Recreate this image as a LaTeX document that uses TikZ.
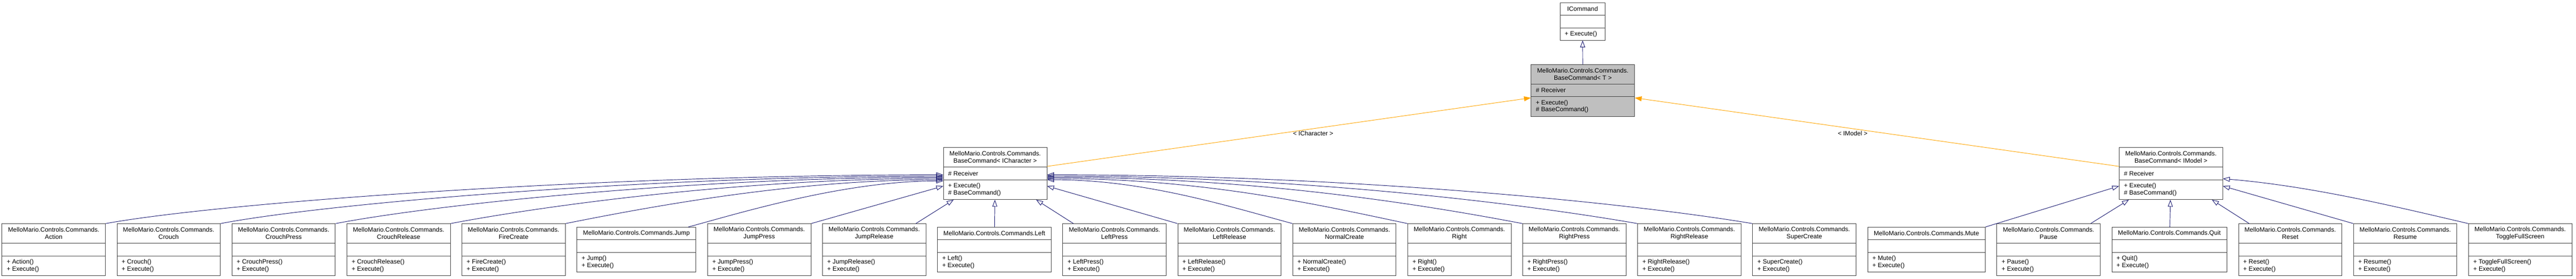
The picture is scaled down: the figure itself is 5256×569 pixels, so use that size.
\documentclass[tikz,border=0pt]{standalone}
\usepackage{fontspec}
\newfontfamily\doxyfont{Liberation Sans}
\usetikzlibrary{calc}
\usetikzlibrary{arrows.meta}
\definecolor{doxyborder}{HTML}{404040}
\definecolor{doxynavy}{HTML}{191970}
\definecolor{doxyorange}{HTML}{FFA500}
\definecolor{doxygray}{HTML}{BFBFBF}
\tikzset{
    mybox/.style = {rectangle, draw=doxyborder, line width=1pt, fill=white, inner sep=0},
    myboxg/.style = {fill=doxygray},
    myline/.style = {draw=doxyborder, line width=1pt},
    mytitle/.style = {align=center, inner sep=0, font=\doxyfont\fontsize{12.8}{14.5}\selectfont},
    mymember/.style = {anchor=west, align=left, inner sep=0, font=\doxyfont\fontsize{12.8}{14.5}\selectfont},
    mylabel/.style = {inner sep=1pt, text=black, font=\doxyfont\fontsize{12.8}{14.5}\selectfont},
    edgei/.style = {-{Triangle[open,length=14pt,width=10pt]}, line width=1pt, doxynavy}, % inheritance
    edgeo/.style = {-{Triangle[length=14pt,width=10pt]}, line width=1pt, doxyorange}  % template
}
% style, name, centre, width, title height, ops height, title, attributes, ops
\newcommand{\umlclass}[9][]{%
  \node[mybox, #1, minimum width=#4, minimum height=#5+26+#6] (#2) at #3 {};
  \node[mytitle] (#2-name) at ($(#2.north)+(0,-#5/2)$) {#7};
  \node[mymember] (#2-attr) at ($(#2.north west)+(10,-#5-13)$) {#8};
  \node[mymember] (#2-ops) at ($(#2.north west)+(10,-#5-26-#6/2)$) {#9};
  \draw[myline] ($(#2.north west)+(0,-#5)$) -- ($(#2.north east)+(0,-#5)$);
  \draw[myline] ($(#2.north west)+(0,-#5-26)$) -- ($(#2.north east)+(0,-#5-26)$);
}
\begin{document}
\begin{tikzpicture}[x=1pt,y=1pt]
\useasboundingbox (0,0) rectangle (5256,-569);

\umlclass{ICommand}{(3229,-44)}{92}{26}{24}{ICommand}{}{+ Execute()}
\umlclass[myboxg]{BaseCmd}{(3229.5,-185)}{211}{40}{40}{MelloMario.Controls.Commands.\\BaseCommand< T >}{\# Receiver}{+ Execute()\\\# BaseCommand()}
\umlclass{CharCmd}{(2030.5,-354.5)}{211}{40}{40}{MelloMario.Controls.Commands.\\BaseCommand< ICharacter >}{\# Receiver}{+ Execute()\\\# BaseCommand()}
\umlclass{Model}{(4429.5,-354.5)}{211}{40}{40}{MelloMario.Controls.Commands.\\BaseCommand< IModel >}{\# Receiver}{+ Execute()\\\# BaseCommand()}

\umlclass{Action}{(109.5,-510)}{211}{40}{40}{MelloMario.Controls.Commands.\\Action}{}{+ Action()\\+ Execute()}
\umlclass{Crouch}{(344.1,-510)}{211}{40}{40}{MelloMario.Controls.Commands.\\Crouch}{}{+ Crouch()\\+ Execute()}
\umlclass{CrouchPress}{(578.7,-510)}{211}{40}{40}{MelloMario.Controls.Commands.\\CrouchPress}{}{+ CrouchPress()\\+ Execute()}
\umlclass{CrouchRelease}{(813.3,-510)}{211}{40}{40}{MelloMario.Controls.Commands.\\CrouchRelease}{}{+ CrouchRelease()\\+ Execute()}
\umlclass{FireCreate}{(1047.9,-510)}{211}{40}{40}{MelloMario.Controls.Commands.\\FireCreate}{}{+ FireCreate()\\+ Execute()}
\umlclass{Jump}{(1298.5,-510)}{243}{26}{40}{MelloMario.Controls.Commands.Jump}{}{+ Jump()\\+ Execute()}
\umlclass{JumpPress}{(1549.1,-510)}{211}{40}{40}{MelloMario.Controls.Commands.\\JumpPress}{}{+ JumpPress()\\+ Execute()}
\umlclass{JumpRelease}{(1783.7,-510)}{211}{40}{40}{MelloMario.Controls.Commands.\\JumpRelease}{}{+ JumpRelease()\\+ Execute()}
\umlclass{Left}{(2028.8,-510)}{232}{26}{40}{MelloMario.Controls.Commands.Left}{}{+ Left()\\+ Execute()}
\umlclass{LeftPress}{(2273.9,-510)}{211}{40}{40}{MelloMario.Controls.Commands.\\LeftPress}{}{+ LeftPress()\\+ Execute()}
\umlclass{LeftRelease}{(2508.5,-510)}{211}{40}{40}{MelloMario.Controls.Commands.\\LeftRelease}{}{+ LeftRelease()\\+ Execute()}
\umlclass{NormalCreate}{(2743.1,-510)}{211}{40}{40}{MelloMario.Controls.Commands.\\NormalCreate}{}{+ NormalCreate()\\+ Execute()}
\umlclass{Right}{(2977.7,-510)}{211}{40}{40}{MelloMario.Controls.Commands.\\Right}{}{+ Right()\\+ Execute()}
\umlclass{RightPress}{(3212.3,-510)}{211}{40}{40}{MelloMario.Controls.Commands.\\RightPress}{}{+ RightPress()\\+ Execute()}
\umlclass{RightRelease}{(3446.9,-510)}{211}{40}{40}{MelloMario.Controls.Commands.\\RightRelease}{}{+ RightRelease()\\+ Execute()}
\umlclass{SuperCreate}{(3681.5,-510)}{211}{40}{40}{MelloMario.Controls.Commands.\\SuperCreate}{}{+ SuperCreate()\\+ Execute()}
\umlclass{Mute}{(3930.6,-510)}{240}{26}{40}{MelloMario.Controls.Commands.Mute}{}{+ Mute()\\+ Execute()}
\umlclass{Pause}{(4179.7,-510)}{211}{40}{40}{MelloMario.Controls.Commands.\\Pause}{}{+ Pause()\\+ Execute()}
\umlclass{Quit}{(4426.3,-510)}{235}{26}{40}{MelloMario.Controls.Commands.Quit}{}{+ Quit()\\+ Execute()}
\umlclass{Reset}{(4672.9,-510)}{211}{40}{40}{MelloMario.Controls.Commands.\\Reset}{}{+ Reset()\\+ Execute()}
\umlclass{Resume}{(4907.5,-510)}{211}{40}{40}{MelloMario.Controls.Commands.\\Resume}{}{+ Resume()\\+ Execute()}
\umlclass{Toggle}{(5142.1,-510)}{211}{40}{40}{MelloMario.Controls.Commands.\\ToggleFullScreen}{}{+ ToggleFullScreen()\\+ Execute()}

\draw[edgei] (BaseCmd) -- (ICommand);
\draw[edgeo] (CharCmd) -- node[mylabel, pos=0.55, below=3pt] {< ICharacter >} (BaseCmd);
\draw[edgeo] (Model) -- node[mylabel, pos=0.55, below=3pt] {< IModel >} (BaseCmd);

\draw[edgei] (Action.north east) .. controls +(250,45) and +(-680,0) .. ([yshift=-2.5pt]CharCmd.west);
\draw[edgei] (Crouch.north east) .. controls +(220,42) and +(-590,0) .. ([yshift=-5pt]CharCmd.west);
\draw[edgei] (CrouchPress.north east) .. controls +(210,40) and +(-500,0) .. ([yshift=-7.5pt]CharCmd.west);
\draw[edgei] (CrouchRelease.north east) .. controls +(200,38) and +(-400,0) .. ([yshift=-10pt]CharCmd.west);
\draw[edgei] (FireCreate.north east) .. controls +(180,36) and +(-300,0) .. ([yshift=-12.5pt]CharCmd.west);
\draw[edgei] ([xshift=-16pt]Jump.north east) .. controls +(110,30) and +(-200,0) .. ([yshift=-15pt]CharCmd.west);
\draw[edgei] (JumpPress.north east) -- ([yshift=-25.5pt]CharCmd.west);
\draw[edgei] (JumpRelease) -- (CharCmd);
\draw[edgei] (Left) -- (CharCmd);
\draw[edgei] (LeftPress) -- (CharCmd);
\draw[edgei] (LeftRelease.north west) -- ([yshift=-25.5pt]CharCmd.east);
\draw[edgei] (NormalCreate.north west) .. controls +(-130,35) and +(200,0) .. ([yshift=-12.5pt]CharCmd.east);
\draw[edgei] (Right.north west) .. controls +(-180,38) and +(320,0) .. ([yshift=-10pt]CharCmd.east);
\draw[edgei] (RightPress.north west) .. controls +(-210,40) and +(420,0) .. ([yshift=-7.5pt]CharCmd.east);
\draw[edgei] (RightRelease.north west) .. controls +(-230,40) and +(520,0) .. ([yshift=-5pt]CharCmd.east);
\draw[edgei] (SuperCreate.north west) .. controls +(-250,42) and +(620,0) .. ([yshift=-2.5pt]CharCmd.east);

\draw[edgei] (Mute.north east) -- ([yshift=-25.5pt]Model.west);
\draw[edgei] (Pause) -- (Model);
\draw[edgei] (Quit) -- (Model);
\draw[edgei] (Reset) -- (Model);
\draw[edgei] (Resume.north west) -- ([yshift=-25.5pt]Model.east);
\draw[edgei] (Toggle.north west) .. controls +(-150,35) and +(180,-15) .. ([yshift=-10.5pt]Model.east);

\end{tikzpicture}
\end{document}
